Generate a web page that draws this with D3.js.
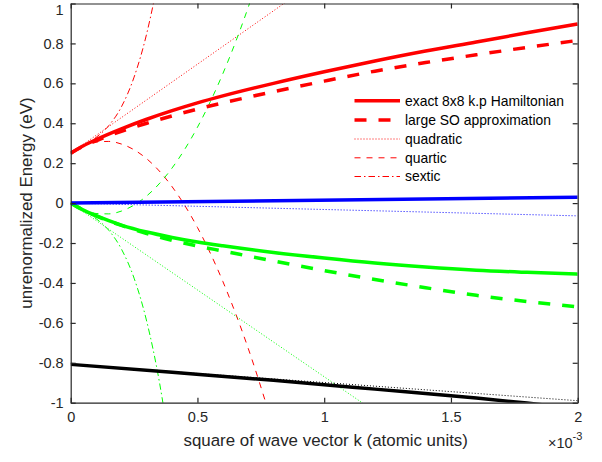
<!DOCTYPE html>
<html><head><meta charset="utf-8">
<script src="https://cdn.jsdelivr.net/npm/d3@7"></script>
<style>body{margin:0;background:#fff;} svg{display:block;font-family:"Liberation Sans",Arial,sans-serif;}</style>
</head><body>
<script>
// ---- data (k in units of 1e-3 atomic units, energies in eV) ----
const xTicks = [0, 0.5, 1, 1.5, 2];
const xTickLabels = ["0", "0.5", "1", "1.5", "2"];
const yTicks = [-1, -0.8, -0.6, -0.4, -0.2, 0, 0.2, 0.4, 0.6, 0.8, 1];
const yTickLabels = ["-1", "-0.8", "-0.6", "-0.4", "-0.2", "0", "0.2", "0.4", "0.6", "0.8", "1"];

const kExact = [0, 0.05, 0.1, 0.2, 0.3, 0.4, 0.5, 0.6, 0.8, 1.0, 1.2, 1.4, 1.6, 1.8, 2.0];
const redExact   = [0.25, 0.287, 0.318, 0.372, 0.42, 0.463, 0.502, 0.537, 0.600, 0.658, 0.712, 0.762, 0.807, 0.853, 0.897];
const redLargeSO = [0.25, 0.285, 0.312, 0.36, 0.40, 0.437, 0.471, 0.502, 0.558, 0.611, 0.661, 0.704, 0.743, 0.780, 0.815];
const greenExact   = [0, -0.035, -0.063, -0.11, -0.145, -0.172, -0.195, -0.214, -0.247, -0.275, -0.300, -0.320, -0.336, -0.347, -0.356];
const greenLargeSO = [0, -0.035, -0.064, -0.112, -0.153, -0.187, -0.215, -0.240, -0.290, -0.338, -0.383, -0.424, -0.462, -0.493, -0.520];

const kLine = [0, 2];
const blueExact = [0, 0.029];
const blueQuad  = [0, -0.064];
const blackQuad = [-0.808, -0.99];
const kBlack = [0, 0.4, 0.8, 1.2, 1.6, 1.8, 2.0];
const blackExact = [-0.808, -0.848, -0.888, -0.932, -0.977, -1.002, -1.03];

const kQuad = [0, 1.2];
const redQuad   = [0.25, 1.32];
const greenQuad = [0, -1.044];

const kQuart = [0, 0.05, 0.1, 0.15, 0.2, 0.3, 0.4, 0.5, 0.6, 0.7, 0.8];
const redQuart   = [0.25, 0.286, 0.306, 0.309, 0.296, 0.222, 0.082, -0.122, -0.392, -0.727, -1.126];
const greenQuart = [0, -0.034, -0.052, -0.054, -0.04, 0.036, 0.176, 0.38, 0.648, 0.98, 1.38];

const kSext = [0, 0.05, 0.1, 0.15, 0.2, 0.25, 0.3, 0.35, 0.4];
const redSext   = [0.25, 0.286, 0.329, 0.388, 0.482, 0.631, 0.85, 1.159, 1.57];
const greenSext = [0, -0.038, -0.078, -0.136, -0.23, -0.376, -0.593, -0.897, -1.306];

const legendLabels = ["exact 8x8 k.p Hamiltonian", "large SO approximation", "quadratic", "quartic", "sextic"];

// ---- styles ----
const axisColor = "#262626";
const styles = {
  exact:  {w: 3.5, dash: null},
  large:  {w: 3.5, dash: "12,12"},
  quad:   {w: 1, dash: "1,2"},
  quart:  {w: 1, dash: "6,6"},
  sext:   {w: 1, dash: "6.5,3,1.5,3"}
};

const W = 602, H = 462;
const m = {l: 70.7, r: 602 - 577.7, t: 3.5, b: 462 - 402.7};
const svg = d3.select("body").append("svg").attr("width", W).attr("height", H);

const x = d3.scaleLinear().domain([0, 2]).range([m.l, W - m.r]);
const y = d3.scaleLinear().domain([-1, 1]).range([H - m.b, m.t]);

svg.append("clipPath").attr("id", "clip").append("rect")
  .attr("x", x(0)).attr("y", y(1)).attr("width", x(2) - x(0)).attr("height", y(-1) - y(1));

const plot = svg.append("g").attr("clip-path", "url(#clip)");

function draw(ks, vals, color, st, curve) {
  const pts = ks.map((k, i) => [k, vals[i]]);
  const line = d3.line().x(d => x(d[0])).y(d => y(d[1])).curve(curve || d3.curveMonotoneX);
  plot.append("path").datum(pts).attr("d", line)
    .attr("fill", "none").attr("stroke", color).attr("stroke-width", st.w)
    .attr("stroke-dasharray", st.dash).attr("stroke-linejoin", "round");
}

// thin approximations
draw(kQuad, redQuad, "#ff0000", styles.quad, d3.curveLinear);
draw(kQuart, redQuart, "#ff0000", styles.quart);
draw(kSext, redSext, "#ff0000", styles.sext);
draw(kQuad, greenQuad, "#00ff00", styles.quad, d3.curveLinear);
draw(kQuart, greenQuart, "#00ff00", styles.quart);
draw(kSext, greenSext, "#00ff00", styles.sext);
draw(kLine, blueQuad, "#0000ff", styles.quad, d3.curveLinear);
draw(kLine, blackQuad, "#000000", styles.quad, d3.curveLinear);
// thick
draw(kExact, redLargeSO, "#ff0000", styles.large);
draw(kExact, redExact, "#ff0000", styles.exact);
draw(kExact, greenLargeSO, "#00ff00", styles.large);
draw(kExact, greenExact, "#00ff00", styles.exact);
draw(kLine, blueExact, "#0000ff", styles.exact, d3.curveLinear);
draw(kBlack, blackExact, "#000000", styles.exact);

// ---- axes ----
const tickLen = 5;
const fs = 14.5;
const gx = svg.append("g").attr("transform", `translate(0,${y(-1)})`)
  .call(d3.axisBottom(x).tickValues(xTicks).tickFormat((d, i) => xTickLabels[i]).tickSizeInner(-tickLen).tickSizeOuter(0).tickPadding(9));
const gxt = svg.append("g").attr("transform", `translate(0,${y(1)})`)
  .call(d3.axisTop(x).tickValues(xTicks).tickFormat("").tickSizeInner(-tickLen).tickSizeOuter(0));
const gy = svg.append("g").attr("transform", `translate(${x(0)},0)`)
  .call(d3.axisLeft(y).tickValues(yTicks).tickFormat((d, i) => yTickLabels[i]).tickSizeInner(-tickLen).tickSizeOuter(0).tickPadding(7));
const gyr = svg.append("g").attr("transform", `translate(${x(2)},0)`)
  .call(d3.axisRight(y).tickValues(yTicks).tickFormat("").tickSizeInner(-tickLen).tickSizeOuter(0));
[gx, gxt, gy, gyr].forEach(g => {
  g.selectAll("path.domain").attr("stroke", axisColor).attr("stroke-width", 1.2);
  g.selectAll(".tick line").attr("stroke", axisColor).attr("stroke-width", 1.2);
  g.selectAll(".tick text").attr("fill", axisColor).attr("font-size", fs)
    .attr("font-family", '"Liberation Sans",Arial,sans-serif');
});
// keep the top label ("1") inside the picture
gy.selectAll(".tick").filter(d => d === 1).select("text").attr("dy", "0.75em");

// axis labels
svg.append("text").attr("x", (x(0) + x(2)) / 2 + 1.5).attr("y", 446)
  .attr("text-anchor", "middle").attr("font-size", 16.9).attr("fill", axisColor)
  .text("square of wave vector k (atomic units)");
svg.append("text").attr("transform", `translate(32,${(y(-1) + y(1)) / 2}) rotate(-90)`)
  .attr("text-anchor", "middle").attr("font-size", 16.9).attr("fill", axisColor)
  .text("unrenormalized Energy (eV)");
const exp = svg.append("text").attr("x", 548).attr("y", 448).attr("font-size", fs).attr("fill", axisColor);
exp.append("tspan").text("\u00d710");
exp.append("tspan").attr("dy", -8).attr("font-size", 11).text("-3");

// ---- legend ----
const legStyles = [styles.exact, styles.large, styles.quad, styles.quart, styles.sext];
const legY = [100.7, 120, 139, 157.8, 176.5];
const leg = svg.append("g");
legendLabels.forEach((lab, i) => {
  leg.append("line").attr("x1", 354.5).attr("x2", 400).attr("y1", legY[i]).attr("y2", legY[i])
    .attr("stroke", "#ff0000").attr("stroke-width", legStyles[i].w).attr("stroke-dasharray", legStyles[i].dash);
  leg.append("text").attr("x", 405).attr("y", legY[i]).attr("dy", "0.35em")
    .attr("font-size", 13.9).attr("fill", "#000").text(lab);
});
</script>
</body></html>
